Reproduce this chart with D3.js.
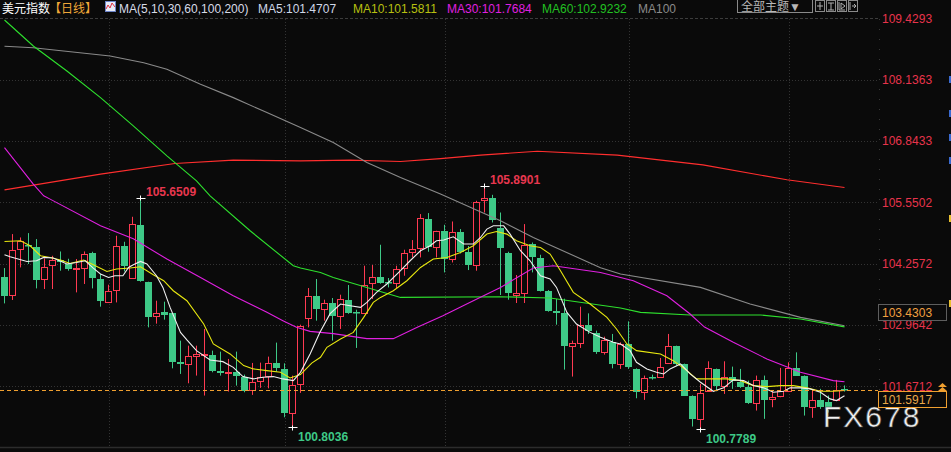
<!DOCTYPE html>
<html><head><meta charset="utf-8">
<script src="https://cdn.jsdelivr.net/npm/d3@7/dist/d3.min.js"></script>
<style>
html,body{margin:0;padding:0;background:#0a0a0a;overflow:hidden}
svg{display:block}
text{font-family:"Liberation Sans",Arial,"Noto Sans CJK SC",sans-serif}
</style></head><body>
<svg id="c" width="951" height="452"></svg>
<script>
// ---------- DATA ----------
const opens =[103.966,103.596,104.564,104.655,104.613,103.933,104.228,104.339,104.249,104.143,104.164,104.472,103.933,103.448,103.701,104.628,103.954,105.076,103.876,103.145,103.244,103.209,102.191,102.143,102.318,102.339,102.339,102.002,101.954,101.981,101.876,101.596,101.791,101.897,102.170,102.038,101.103,101.722,103.112,103.581,103.301,103.427,103.160,103.497,103.234,103.217,103.840,103.966,103.865,103.849,104.164,104.508,104.586,105.196,104.598,104.950,104.354,104.914,104.508,104.228,105.596,105.638,105.007,104.480,103.602,103.638,104.670,104.375,103.686,103.265,103.223,102.528,102.577,102.970,102.796,102.387,102.598,102.143,102.564,102.038,101.560,101.876,101.876,102.156,102.514,102.143,101.476,100.985,101.566,102.038,101.686,101.876,101.755,101.665,101.313,101.812,101.406,101.476,101.566,102.059,101.897,101.244,101.385,101.349,101.385,101.620];
const highs =[104.164,104.880,104.809,104.901,104.775,104.367,104.423,104.514,104.360,104.354,104.514,104.508,104.038,103.813,104.845,104.718,105.245,105.6509,103.876,103.476,103.455,103.209,102.634,102.528,102.528,102.880,102.423,102.402,102.248,102.402,101.918,102.164,102.170,102.297,102.592,102.156,101.897,102.970,103.743,103.933,103.497,103.533,103.602,103.807,103.286,104.213,104.228,104.655,103.954,104.213,104.550,104.754,105.302,105.323,104.950,105.076,105.146,104.986,104.628,105.582,105.8901,105.708,105.335,104.508,104.017,105.091,104.703,104.444,103.700,103.512,103.518,102.634,103.350,103.209,102.844,102.718,102.775,102.598,103.040,102.050,101.897,101.918,102.269,102.775,102.528,102.150,101.480,101.722,102.198,102.045,102.198,102.086,102.038,101.791,101.897,101.897,101.581,102.059,102.177,102.387,101.900,101.581,101.617,101.476,101.806,101.690];
const lows  =[103.419,103.491,104.177,104.249,103.735,103.722,103.722,104.108,104.108,103.651,103.828,103.735,103.350,103.434,103.440,104.093,103.939,103.876,102.914,102.992,103.076,102.050,101.932,101.735,101.897,101.476,101.966,101.897,101.560,101.686,101.545,101.490,101.638,101.629,101.981,101.018,100.8036,101.532,102.914,103.055,103.055,102.634,102.880,103.200,102.480,103.202,103.512,103.834,103.756,103.743,104.002,104.388,104.388,104.508,104.388,104.072,104.282,104.472,104.122,104.108,105.335,105.125,103.596,103.497,103.427,103.427,104.072,103.670,103.244,102.970,102.023,101.876,102.480,102.775,102.354,102.339,102.050,102.038,102.038,101.419,101.385,101.812,101.861,102.150,102.107,101.470,100.823,100.7789,101.560,101.566,101.511,101.617,101.638,101.300,101.160,100.985,101.229,101.440,101.550,101.890,101.054,101.006,101.195,101.117,101.370,101.560];
const closes=[103.581,104.543,104.739,104.619,103.918,104.177,104.333,104.282,104.143,104.175,104.459,103.945,103.461,103.686,104.628,104.213,105.091,103.882,103.139,103.217,103.175,102.191,102.135,102.318,102.354,102.360,102.002,101.945,101.981,101.882,101.581,101.770,101.861,102.164,102.050,101.103,101.701,102.935,103.566,103.301,103.427,103.160,103.512,103.217,103.213,103.807,103.966,103.840,103.849,104.143,104.480,104.564,105.217,104.598,104.935,104.354,104.914,104.493,104.228,105.567,105.638,105.181,104.577,103.630,103.638,104.649,104.388,103.686,103.265,103.209,102.514,102.577,102.970,102.829,102.387,102.655,102.143,102.564,102.071,101.560,101.848,101.840,102.086,102.514,102.143,101.476,100.985,101.532,102.059,101.686,101.876,101.791,101.665,101.313,101.812,101.391,101.454,101.566,102.059,101.897,101.244,101.385,101.229,101.202,101.596,101.5917];

const tickValues=[109.4293,108.1363,106.8433,105.5502,104.2572,102.9642,101.6712];
const monthStartIdx=[13,35,55,78,98];

const ma5Pts=[[0,104.444],[0.7,104.402],[2.8,104.303],[4,104.318],[4.9,104.388],[6.1,104.375],[7.8,104.249],[9,104.282],[10.1,104.318],[11.1,104.164],[12,104.038],[13,103.966],[13.8,104.002],[14.8,104.002],[15.5,104.177],[16.1,104.234],[17,104.303],[17.8,104.249],[19,104.002],[19.8,103.756],[20.7,103.335],[22,102.808],[22.8,102.648],[24,102.423],[25.7,102.227],[27.3,102.191],[28.6,102.071],[29.8,101.876],[31.1,101.827],[32.3,101.861],[33.6,101.876],[34.8,101.827],[36.1,101.791],[37,101.966],[38.2,102.354],[39.4,102.80],[40.7,103.202],[42,103.406],[43.2,103.371],[44.5,103.335],[45.3,103.440],[46.5,103.651],[47.8,103.828],[49.5,104.108],[50.7,104.318],[52,104.529],[53.2,104.634],[54,104.739],[54.9,104.754],[56.1,104.824],[57.4,104.670],[58.6,104.670],[59.5,104.809],[60.3,104.986],[61.1,105.055],[62.4,105.055],[63.2,104.880],[64.5,104.529],[65.7,104.318],[67,104.002],[68.2,103.933],[69,103.756],[70.3,103.230],[71.5,102.985],[73.2,102.808],[74.5,102.703],[76.1,102.598],[77,102.564],[78.2,102.423],[79,102.177],[80.3,102.038],[81.5,101.966],[82.4,101.932],[83.2,102.038],[84.5,102.143],[85.7,101.932],[87,101.756],[88.6,101.566],[89.9,101.638],[91.1,101.806],[92.4,101.791],[93.6,101.686],[94.9,101.638],[96.1,101.545],[97.4,101.566],[98.2,101.638],[99.5,101.638],[100.7,101.617],[102,101.545],[103.2,101.406],[104,101.370],[105,101.4707]];
const ma10Pts=[[0,104.724],[2,104.739],[3.2,104.634],[4.5,104.423],[5.7,104.388],[7,104.333],[8.2,104.261],[9.9,104.333],[11.1,104.234],[12.8,104.093],[14,104.143],[15.7,104.164],[17,104.192],[18.6,104.023],[19.9,103.897],[21.1,103.686],[22.8,103.476],[24.9,102.985],[26.1,102.564],[28.2,102.354],[29.9,102.107],[31.1,102.038],[32.8,102.002],[34.5,101.966],[35.7,101.848],[37,101.918],[38.4,102.16],[39.5,102.282],[40.3,102.493],[42,102.669],[43.6,102.808],[44.9,103.124],[46.1,103.440],[47,103.545],[48.6,103.686],[50.3,103.897],[52,104.177],[53.6,104.354],[55.3,104.388],[57,104.493],[58.6,104.634],[60.3,104.880],[61.5,104.935],[62.8,104.880],[64,104.739],[65.7,104.634],[67,104.598],[68.2,104.459],[69.5,104.108],[71.1,103.651],[73.2,103.406],[75.3,103.124],[76.5,102.880],[77.8,102.564],[79,102.423],[82,102.354],[83.6,102.212],[85.3,102.002],[86.5,101.827],[88.2,101.827],[90.3,101.827],[92,101.791],[93.6,101.686],[95.3,101.665],[97,101.686],[98.6,101.686],[100.3,101.638],[102,101.566],[103.6,101.566],[105,101.5811]];
const ma30Pts=[[0,106.704],[3.6,105.933],[4.9,105.687],[5.7,105.617],[12,105.055],[16.1,104.781],[20.3,104.354],[24.5,103.966],[28.6,103.581],[32.8,103.230],[34.8,103.055],[36.5,102.914],[38.2,102.829],[41.1,102.781],[45.3,102.676],[48.6,102.676],[51.6,102.914],[54.8,103.160],[58.6,103.476],[62,103.756],[66.1,104.164],[68.6,104.213],[74.5,104.072],[77,103.966],[78.6,103.897],[82.8,103.581],[85.7,103.196],[87.5,102.92],[91.1,102.598],[95.3,102.248],[99.5,101.966],[103.6,101.791],[105,101.7684]];
const ma60Pts=[[0,109.393],[3.6,108.845],[7.8,108.319],[12,107.757],[16.1,107.161],[20.3,106.529],[24,106.003],[25.7,105.687],[30.7,104.950],[36.1,104.213],[37,104.165],[39.5,104.072],[41.1,103.966],[45.3,103.756],[49.5,103.545],[62,103.560],[68.2,103.533],[77,103.322],[79.5,103.229],[85.7,103.175],[94.5,103.175],[99.5,103.091],[105,102.9232]];
const ma100Pts=[[0,108.839],[3.6,108.810],[13.2,108.635],[17.4,108.494],[20.3,108.355],[24.5,108.039],[28.6,107.757],[32.8,107.441],[37,107.125],[41.1,106.809],[45.3,106.388],[49.5,106.072],[54.5,105.723],[62,105.160],[66.1,104.809],[74.5,104.171],[77,104.038],[87,103.756],[93.2,103.407],[99.5,103.124],[105,102.949]];
const ma200Pts=[[0,105.813],[12,106.144],[21.3,106.367],[28.6,106.439],[37,106.424],[43.2,106.439],[49.5,106.409],[54.5,106.472],[59.5,106.544],[66.6,106.628],[76.6,106.544],[87.3,106.340],[97.8,106.024],[105,105.862]];

const legendLabels=["MA(5,10,30,60,100,200)","MA5:101.4707","MA10:101.5811","MA30:101.7684","MA60:102.9232","MA100"];
const highMarks=[{i:17,v:105.6509,label:"105.6509"},{i:60,v:105.8901,label:"105.8901"}];
const lowMarks=[{i:36,v:100.8036,label:"100.8036"},{i:87,v:100.7789,label:"100.7789"}];
const lastPrice=101.5917;
const cursorPrice=103.4303;

// ---------- DRAW ----------
const W=951,H=452;
const svg=d3.select("#c");
svg.append("rect").attr("width",W).attr("height",H).attr("fill","#0a0a0a");

const x=d3.scaleLinear().domain([0,105]).range([4.5,844.5]);
const y=d3.scaleLinear().domain([101.6712,109.4293]).range([386.3,18.3]);
const UP="#ff3a52", DOWN="#3ec987";
const plotRight=879;

// grid
const grid=svg.append("g");
tickValues.forEach((t,k)=>{
  const yy=Math.round(y(t))+0.5;
  grid.append("line").attr("x1",0).attr("x2",plotRight).attr("y1",yy).attr("y2",yy)
    .attr("stroke",k===0?"#3c3c3c":"#333").attr("stroke-dasharray",k===0?"3,2":"1,2");
});
monthStartIdx.forEach(i=>{
  const xx=Math.round(x(i))+0.5;
  grid.append("line").attr("x1",xx).attr("x2",xx).attr("y1",19).attr("y2",447)
    .attr("stroke","#333").attr("stroke-dasharray","1,2");
});
grid.append("line").attr("x1",plotRight+0.5).attr("x2",plotRight+0.5).attr("y1",19).attr("y2",447)
  .attr("stroke","#3a3a3a").attr("stroke-dasharray","1,9");
svg.append("line").attr("x1",0).attr("x2",W).attr("y1",447.5).attr("y2",447.5).attr("stroke","#2c2c2c").attr("stroke-width",1.5);

// right axis labels
svg.append("g").selectAll("text").data(tickValues).join("text")
  .attr("x",882).attr("y",d=>y(d)).attr("dy","0.36em")
  .attr("font-size",12).attr("fill","#e8344c").text(d=>d.toFixed(4));

// candles
const idx=d3.range(opens.length);
const cg=svg.append("g");
idx.forEach(i=>{
  const o=opens[i],h=highs[i],l=lows[i],c=closes[i];
  const cx=Math.floor(x(i))+0.5;
  const up=c>=o;
  const col=up?UP:DOWN;
  const yt=Math.round(y(Math.max(o,c))), yb=Math.round(y(Math.min(o,c)));
  if(up){
    cg.append("line").attr("x1",cx).attr("x2",cx).attr("y1",y(h)).attr("y2",yt).attr("stroke",col);
    cg.append("line").attr("x1",cx).attr("x2",cx).attr("y1",yb).attr("y2",y(l)).attr("stroke",col);
    cg.append("rect").attr("x",cx-3).attr("y",yt+0.5).attr("width",6).attr("height",Math.max(1,yb-yt))
      .attr("fill","#0a0a0a").attr("stroke",col).attr("stroke-width",1);
  } else {
    cg.append("line").attr("x1",cx).attr("x2",cx).attr("y1",y(h)).attr("y2",y(l)).attr("stroke",col);
    cg.append("rect").attr("x",cx-3.5).attr("y",yt).attr("width",7).attr("height",Math.max(1.5,yb-yt)).attr("fill",col);
  }
});

// moving averages
const line=d3.line().x(d=>x(d[0])).y(d=>y(d[1]));
const maSeries=[
  {pts:ma200Pts,color:"#ff2e2e"},
  {pts:ma100Pts,color:"#8a8a8a"},
  {pts:ma60Pts,color:"#2ee02e"},
  {pts:ma30Pts,color:"#e020e0"},
  {pts:ma10Pts,color:"#e8e810"},
  {pts:ma5Pts,color:"#f0f0f0"}
];
svg.append("g").selectAll("path").data(maSeries).join("path")
  .attr("d",d=>line(d.pts)).attr("fill","none").attr("stroke",d=>d.color).attr("stroke-width",1.1);

// last price dashed line
const lpY=Math.round(y(lastPrice))+0.5;
svg.append("line").attr("x1",0).attr("x2",878).attr("y1",lpY).attr("y2",lpY)
  .attr("stroke","#f0a030").attr("stroke-dasharray","4,3");

// high / low marks
const mk=svg.append("g");
highMarks.forEach(m=>{
  const cx=Math.floor(x(m.i))+0.5, yy=Math.round(y(m.v))+0.5;
  mk.append("line").attr("x1",cx-4).attr("x2",cx+5).attr("y1",yy).attr("y2",yy).attr("stroke","#fff");
  mk.append("line").attr("x1",cx).attr("x2",cx).attr("y1",yy-3).attr("y2",yy+2).attr("stroke","#fff");
  mk.append("text").attr("x",cx+5.5).attr("y",yy-3).attr("font-size",12).attr("font-weight","bold")
    .attr("fill","#e8374f").text(m.label);
});
lowMarks.forEach(m=>{
  const cx=Math.floor(x(m.i))+0.5, yy=Math.round(y(m.v))+0.5;
  mk.append("line").attr("x1",cx-4).attr("x2",cx+5).attr("y1",yy).attr("y2",yy).attr("stroke","#fff");
  mk.append("line").attr("x1",cx).attr("x2",cx).attr("y1",yy-2).attr("y2",yy+3).attr("stroke","#fff");
  mk.append("text").attr("x",cx+5.5).attr("y",yy+13).attr("font-size",12).attr("font-weight","bold")
    .attr("fill","#3ec987").text(m.label);
});

// watermark
svg.append("text").attr("x",823).attr("y",427).attr("font-size",30).attr("letter-spacing",2)
  .attr("fill","#f2f2f2").attr("stroke","#4a4a4a").attr("stroke-width",0.6).text("FX678");

// right boxes
function priceBox(v,border,textCol){
  const top=Math.round(y(v))+1.5;
  svg.append("rect").attr("x",878.5).attr("y",top).attr("width",68).attr("height",16)
    .attr("fill","#0a0a0a").attr("stroke",border);
  svg.append("text").attr("x",882).attr("y",top+12.5).attr("font-size",12).attr("fill",textCol).text(v.toFixed(4));
}
priceBox(cursorPrice,"#5e5e5e","#f0a040");
priceBox(lastPrice,"#f0a030","#e8a848");
// double up arrow icon
svg.append("path").attr("d","M938,387 L942.5,383 L947,387 Z M938,391 L942.5,387 L947,391 Z").attr("fill","#f0a030");

// right-edge marks
[[79,"#3a6ad0"],[113,"#3a6ad0"],[137,"#3a6ad0"],[160,"#3a6ad0"],[218,"#e8c030"],[303,"#e8c030"]].forEach(d=>{
  svg.append("rect").attr("x",949).attr("y",d[0]-3).attr("width",2).attr("height",7).attr("fill",d[1]);
});

// header
const hd=svg.append("g");
hd.append("text").attr("x",2).attr("y",13).attr("font-size",12).attr("fill","#ffffff").text("美元指数");
hd.append("text").attr("x",49).attr("y",13).attr("font-size",12).attr("fill","#f0a838").text("【日线】");
hd.append("rect").attr("x",105.5).attr("y",1.5).attr("width",10).attr("height",10).attr("fill","#e8ecf8").attr("stroke","#6c84c8");
hd.append("polyline").attr("points","106,9 108,5 110,8 112,3 115,7").attr("fill","none").attr("stroke","#e03040").attr("stroke-width",1);
const legendX=[119,258,353,447,542,638];
const legendC=["#d8dce8","#d0d8e8","#b8c010","#e020e0","#22c022","#8a8a8a"];
legendLabels.forEach((t,k)=>{
  hd.append("text").attr("x",legendX[k]).attr("y",13).attr("font-size",12).attr("fill",legendC[k]).text(t);
});
hd.append("rect").attr("x",737.5).attr("y",-0.5).attr("width",75).attr("height",13).attr("fill","none").attr("stroke","#8a8a8a");
hd.append("text").attr("x",741).attr("y",10.5).attr("font-size",12).attr("fill","#b8b8b8").text("全部主题▼");
[815,826,837,848].forEach((bx,k)=>{
  hd.append("rect").attr("x",bx+0.5).attr("y",0.5).attr("width",9).attr("height",11).attr("fill","none").attr("stroke","#8a8a8a");
  const g=hd.append("g").attr("stroke","#b0b0b0").attr("fill","none");
  if(k===0){g.append("path").attr("d",`M${bx+5},2 V10 M${bx+2},6 H${bx+8}`);}
  if(k===1){g.append("path").attr("d",`M${bx+2},3 H${bx+8} M${bx+5},3 V10 M${bx+2},10 H${bx+8}`);}
  if(k===2){g.append("path").attr("d",`M${bx+2},2 V10 H${bx+8} M${bx+4},3 L${bx+8},6 L${bx+4},9 Z`);}
  if(k===3){g.append("path").attr("d",`M${bx+2},2 V10 M${bx+4},6 H${bx+8} M${bx+6},4 L${bx+8},6 L${bx+6},8`);}
});
</script>
</body></html>
